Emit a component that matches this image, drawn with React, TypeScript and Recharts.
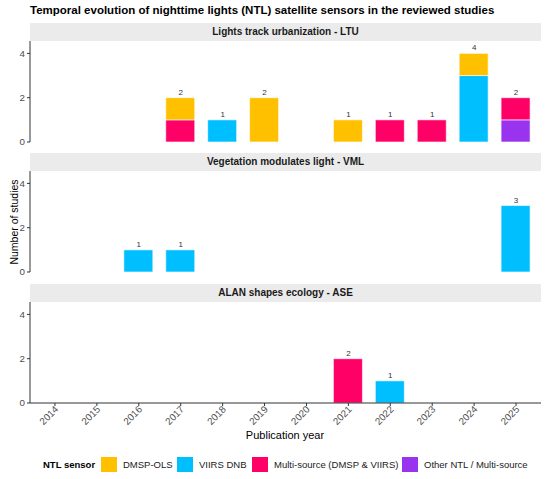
import { ComposedChart, Bar, Line, XAxis, YAxis, LabelList } from 'recharts'

const years = ['2014', '2015', '2016', '2017', '2018', '2019', '2020', '2021', '2022', '2023', '2024', '2025']

const sensorNames = ['DMSP-OLS', 'VIIRS DNB', 'Multi-source (DMSP & VIIRS)', 'Other NTL / Multi-source']
const sensorColors = ['#FFC000', '#00BFFF', '#FF0066', '#9933EE']

// Lights track urbanization - LTU
const ltuDmsp = [0, 0, 0, 1, 0, 2, 0, 1, 0, 0, 1, 0]
const ltuViirs = [0, 0, 0, 0, 1, 0, 0, 0, 0, 0, 3, 0]
const ltuMulti = [0, 0, 0, 1, 0, 0, 0, 0, 1, 1, 0, 1]
const ltuOther = [0, 0, 0, 0, 0, 0, 0, 0, 0, 0, 0, 1]

// Vegetation modulates light - VML
const vmlDmsp = [0, 0, 0, 0, 0, 0, 0, 0, 0, 0, 0, 0]
const vmlViirs = [0, 0, 1, 1, 0, 0, 0, 0, 0, 0, 0, 3]
const vmlMulti = [0, 0, 0, 0, 0, 0, 0, 0, 0, 0, 0, 0]
const vmlOther = [0, 0, 0, 0, 0, 0, 0, 0, 0, 0, 0, 0]

// ALAN shapes ecology - ASE
const aseDmsp = [0, 0, 0, 0, 0, 0, 0, 0, 0, 0, 0, 0]
const aseViirs = [0, 0, 0, 0, 0, 0, 0, 0, 1, 0, 0, 0]
const aseMulti = [0, 0, 0, 0, 0, 0, 0, 2, 0, 0, 0, 0]
const aseOther = [0, 0, 0, 0, 0, 0, 0, 0, 0, 0, 0, 0]

const yTicks = [0, 2, 4]

const FONT = '"Liberation Sans", Arial, Helvetica, sans-serif'

function buildRows(dmsp: number[], viirs: number[], multi: number[], other: number[]) {
  return years.map((year, i) => {
    const total = dmsp[i] + viirs[i] + multi[i] + other[i]
    return { year, dmsp: dmsp[i], viirs: viirs[i], multi: multi[i], other: other[i], total: total || null }
  })
}

const panels = [
  { title: 'Lights track urbanization - LTU', rows: buildRows(ltuDmsp, ltuViirs, ltuMulti, ltuOther) },
  { title: 'Vegetation modulates light - VML', rows: buildRows(vmlDmsp, vmlViirs, vmlMulti, vmlOther) },
  { title: 'ALAN shapes ecology - ASE', rows: buildRows(aseDmsp, aseViirs, aseMulti, aseOther) },
]

const TotalLabel = (props: any) => {
  const { x, y, value } = props
  if (!value) return null
  return (
    <text x={x} y={y - 3} textAnchor="middle" fontSize={8} fill="#333" fontFamily={FONT}>
      {value}
    </text>
  )
}

const YearTick = (props: any) => {
  const { x, y, payload } = props
  return (
    <g transform={`translate(${x + 4},${y + 2})`}>
      <text x={0} y={0} textAnchor="end" transform="rotate(-45)" fontSize={9.8} fill="#4d4d4d" fontFamily={FONT}>
        {payload.value}
      </text>
    </g>
  )
}

function Panel({ rows, showX }: { rows: any[]; showX: boolean }) {
  return (
    <ComposedChart
      width={550}
      height={showX ? 131 : 108}
      data={rows}
      margin={{ top: 0, right: 9, bottom: showX ? 0 : 7, left: 0 }}
    >
      <XAxis
        dataKey="year"
        hide={!showX}
        height={30}
        padding={{ left: 4, right: 4 }}
        interval={0}
        tickSize={3}
        axisLine={{ stroke: '#333' }}
        tickLine={{ stroke: '#333' }}
        tick={<YearTick />}
      />
      <YAxis
        width={30}
        domain={[0, 4.56]}
        ticks={yTicks}
        allowDataOverflow
        tickSize={3}
        tickMargin={2}
        axisLine={{ stroke: '#333' }}
        tickLine={{ stroke: '#333' }}
        tick={{ fontSize: 9.8, fill: '#4d4d4d', fontFamily: FONT }}
      />
      <Bar dataKey="other" stackId="s" fill={sensorColors[3]} stroke="#fff" strokeWidth={0.6} barSize={29} isAnimationActive={false} />
      <Bar dataKey="multi" stackId="s" fill={sensorColors[2]} stroke="#fff" strokeWidth={0.6} barSize={29} isAnimationActive={false} />
      <Bar dataKey="viirs" stackId="s" fill={sensorColors[1]} stroke="#fff" strokeWidth={0.6} barSize={29} isAnimationActive={false} />
      <Bar dataKey="dmsp" stackId="s" fill={sensorColors[0]} stroke="#fff" strokeWidth={0.6} barSize={29} isAnimationActive={false} />
      <Line dataKey="total" stroke="none" dot={false} activeDot={false} isAnimationActive={false}>
        <LabelList dataKey="total" content={TotalLabel} />
      </Line>
    </ComposedChart>
  )
}

const legendSwatchX = [101, 177, 252, 402]
const legendLabelX = [123, 199, 274, 424]

export default function App() {
  const plotTops = [41, 171, 302]
  return (
    <div style={{ position: 'absolute', left: 0, top: 0, width: 550, height: 479, background: '#fff', fontFamily: FONT }}>
      <div style={{ position: 'absolute', left: 30, top: 4, fontSize: 11.5, fontWeight: 'bold', color: '#000', whiteSpace: 'nowrap' }}>
        Temporal evolution of nighttime lights (NTL) satellite sensors in the reviewed studies
      </div>
      {panels.map((p, k) => (
        <div key={p.title}>
          <div
            style={{
              position: 'absolute', left: 30, top: plotTops[k] - 18, width: 511, height: 18,
              background: '#EBEBEB', textAlign: 'center', lineHeight: '18px', fontSize: 10,
              fontWeight: 'bold', color: '#1a1a1a',
            }}
          >
            {p.title}
          </div>
          <div style={{ position: 'absolute', left: 0, top: plotTops[k] }}>
            <Panel rows={p.rows} showX={k === 2} />
          </div>
        </div>
      ))}
      <div
        style={{
          position: 'absolute', left: 14, top: 222, transform: 'translate(-50%, -50%) rotate(-90deg)',
          fontSize: 10.5, whiteSpace: 'nowrap', color: '#000',
        }}
      >
        Number of studies
      </div>
      <div style={{ position: 'absolute', left: 285, top: 435, transform: 'translate(-50%, -50%)', fontSize: 11, whiteSpace: 'nowrap' }}>
        Publication year
      </div>
      <div style={{ position: 'absolute', left: 43, top: 464, transform: 'translateY(-50%)', fontSize: 9.5, fontWeight: 'bold', whiteSpace: 'nowrap' }}>
        NTL sensor
      </div>
      {sensorNames.map((name, i) => (
        <div key={name}>
          <div style={{ position: 'absolute', left: legendSwatchX[i], top: 457, width: 16, height: 15, background: sensorColors[i] }} />
          <div style={{ position: 'absolute', left: legendLabelX[i], top: 464, transform: 'translateY(-50%)', fontSize: 9.5, whiteSpace: 'nowrap', color: '#1a1a1a' }}>
            {name}
          </div>
        </div>
      ))}
    </div>
  )
}
